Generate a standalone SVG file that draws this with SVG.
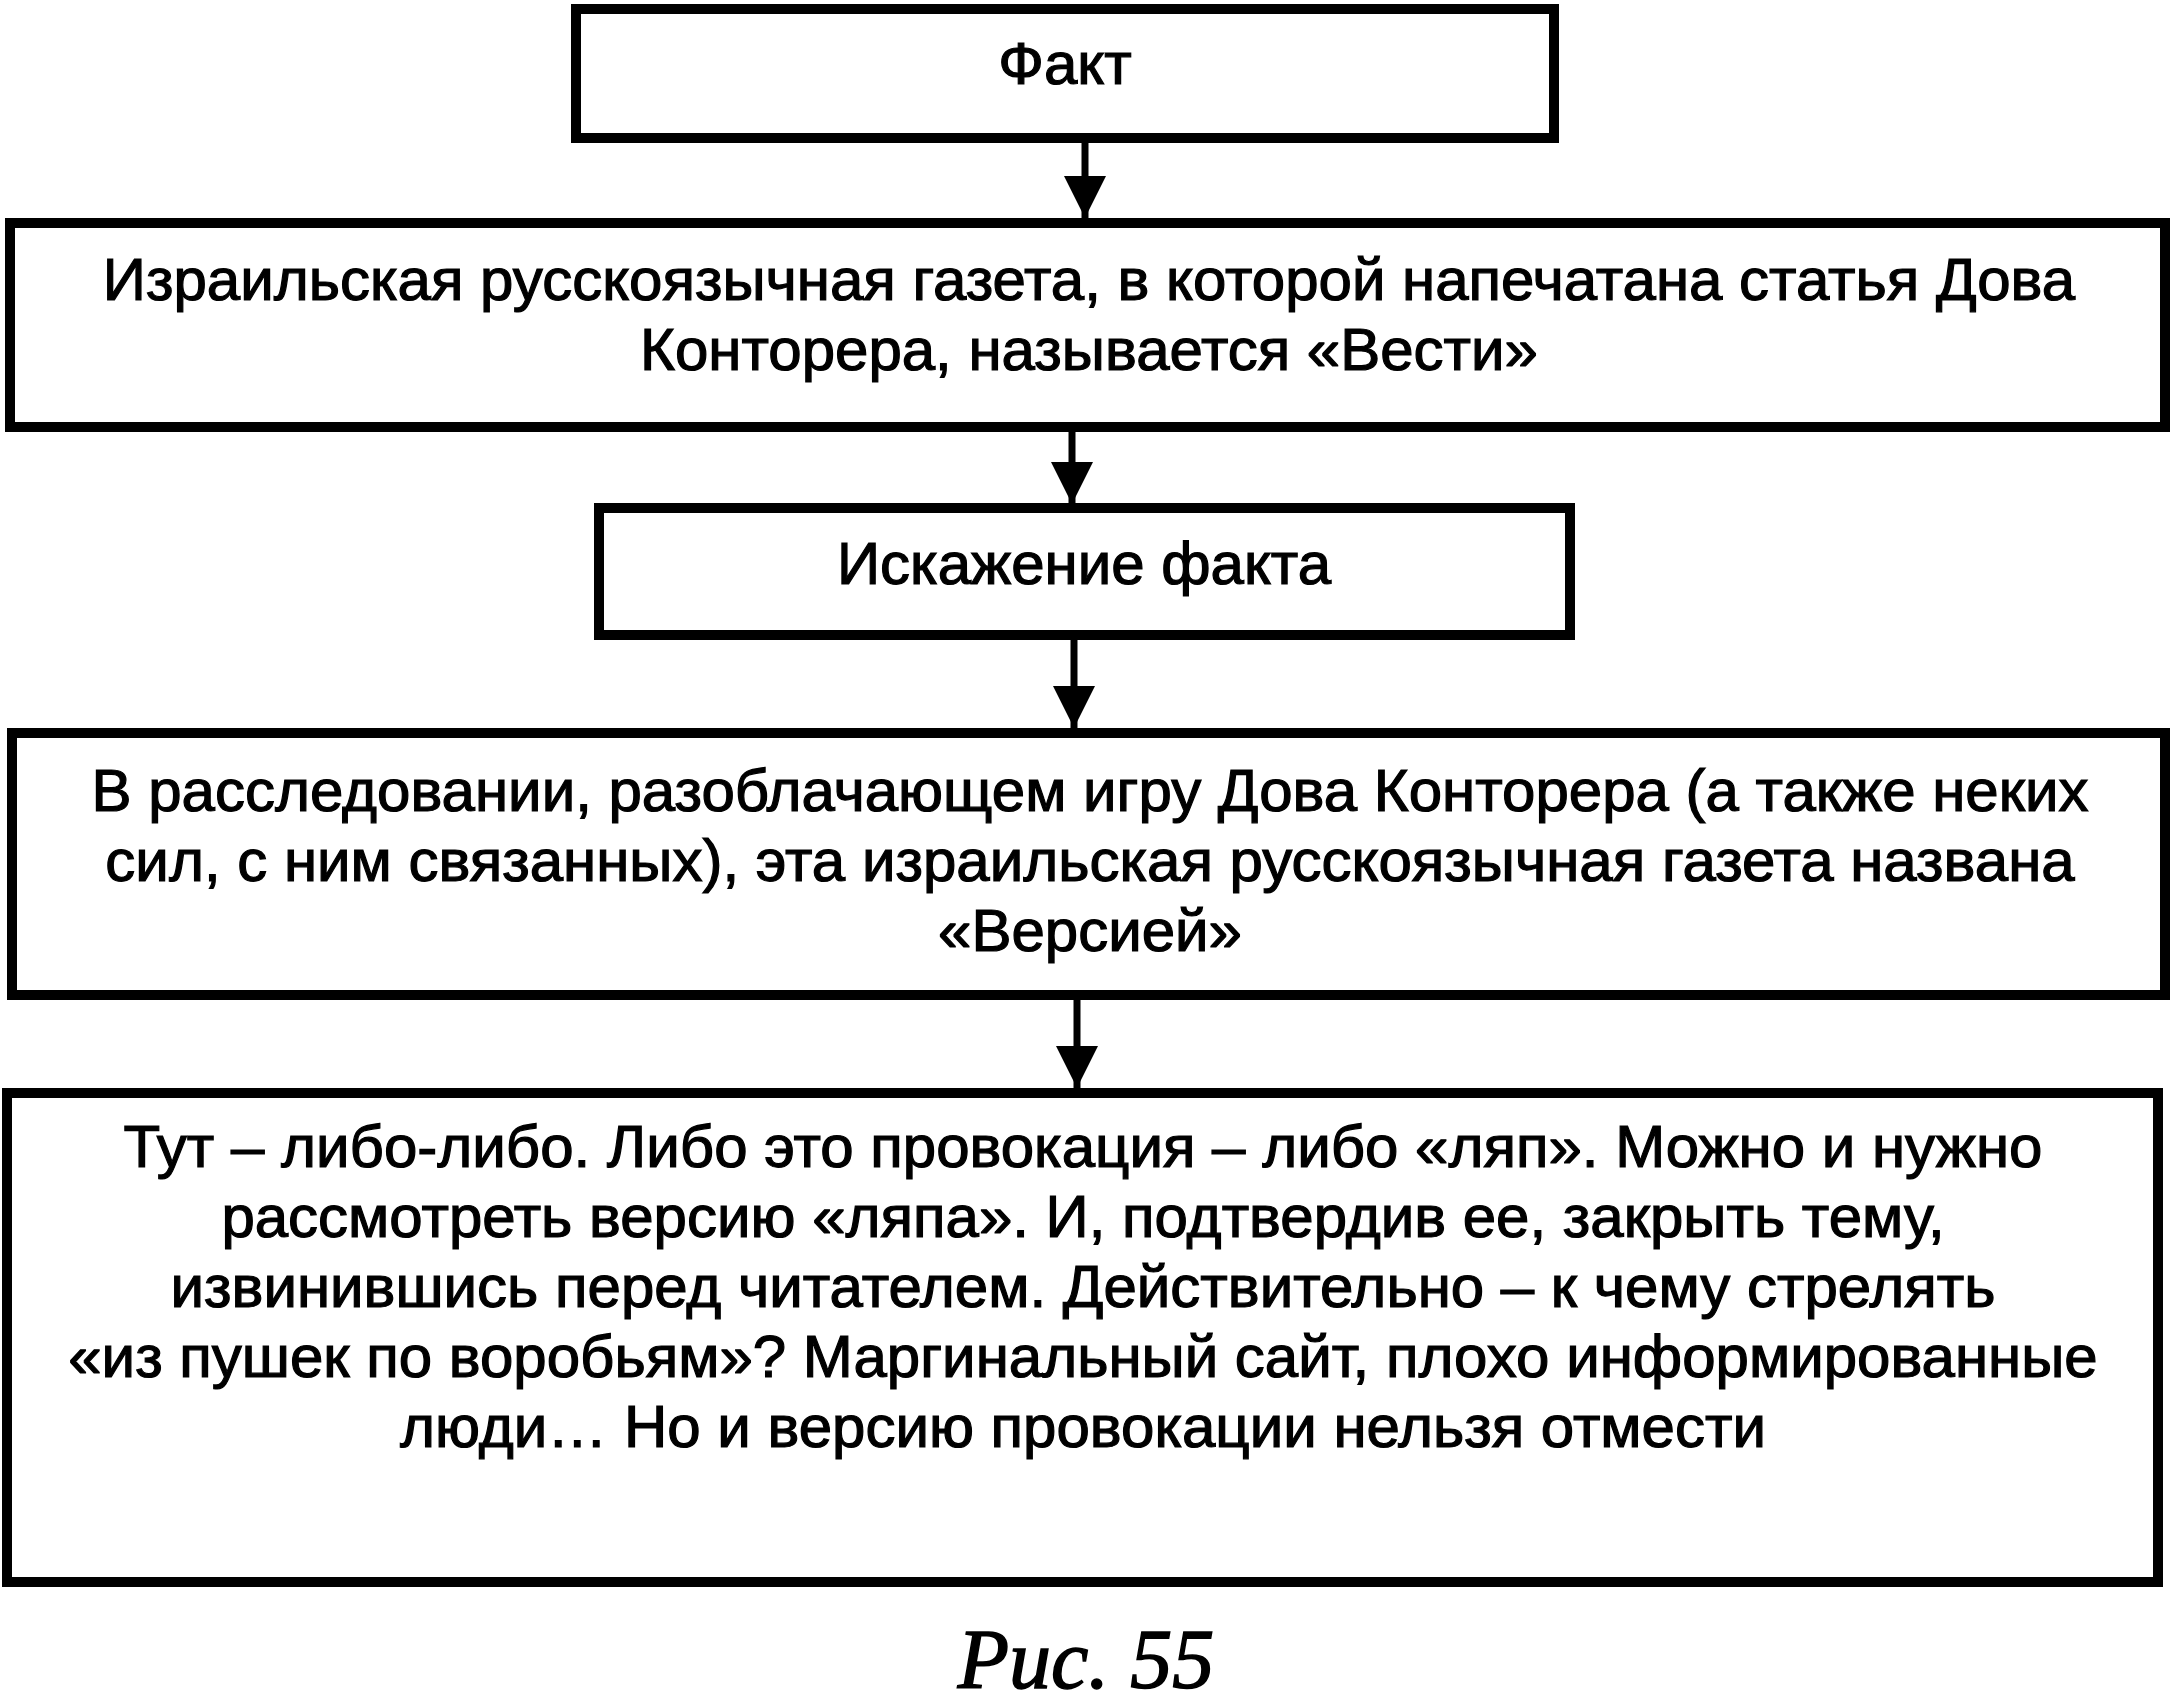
<svg xmlns="http://www.w3.org/2000/svg" width="2173" height="1705" viewBox="0 0 2173 1705">
<style>
.box{fill:#fff;stroke:#000;stroke-width:10}
.t{font-family:"Liberation Sans",Arial,sans-serif;font-size:60px;fill:#000;stroke:#000;stroke-width:1.2;text-anchor:middle}
.cap{font-family:"Liberation Serif","Times New Roman",serif;font-style:italic;font-size:84px;fill:#000;stroke:#000;stroke-width:1.5;text-anchor:middle}
.ln{stroke:#000;stroke-width:7;fill:none}
</style>
<defs>
<marker id="ah" markerUnits="userSpaceOnUse" markerWidth="42" markerHeight="44" refX="42" refY="21" orient="auto">
<path d="M0,0 L42,21 L0,42 Z" fill="#000"/>
</marker>
</defs>
<rect width="2173" height="1705" fill="#fff"/>
<g id="connectors">
<line class="ln" x1="1085" y1="143" x2="1085" y2="218" marker-end="url(#ah)"/>
<line class="ln" x1="1072" y1="432" x2="1072" y2="504" marker-end="url(#ah)"/>
<line class="ln" x1="1074" y1="640" x2="1074" y2="728" marker-end="url(#ah)"/>
<line class="ln" x1="1077" y1="1000" x2="1077" y2="1088" marker-end="url(#ah)"/>
</g>
<g id="node-fact">
<rect class="box" x="576" y="9" width="978" height="129"/>
<text class="t" x="1065" y="84">Факт</text>
</g>
<g id="node-vesti">
<rect class="box" x="10" y="223" width="2155" height="204"/>
<text class="t" x="1089" y="300">Израильская русскоязычная газета, в которой напечатана статья Дова</text>
<text class="t" x="1089" y="370">Конторера, называется «Вести»</text>
</g>
<g id="node-distortion">
<rect class="box" x="599" y="508" width="971" height="127"/>
<text class="t" x="1084" y="584">Искажение факта</text>
</g>
<g id="node-versia">
<rect class="box" x="12" y="733" width="2153" height="262"/>
<text class="t" x="1090" y="811">В расследовании, разоблачающем игру Дова Конторера (а также неких</text>
<text class="t" x="1090" y="881">сил, с ним связанных), эта израильская русскоязычная газета названа</text>
<text class="t" x="1090" y="951">«Версией»</text>
</g>
<g id="node-conclusion">
<rect class="box" x="7" y="1093" width="2151" height="489"/>
<text class="t" x="1083" y="1167">Тут – либо-либо. Либо это провокация – либо «ляп». Можно и нужно</text>
<text class="t" x="1083" y="1237">рассмотреть версию «ляпа». И, подтвердив ее, закрыть тему,</text>
<text class="t" x="1083" y="1307">извинившись перед читателем. Действительно – к чему стрелять</text>
<text class="t" x="1083" y="1377">«из пушек по воробьям»? Маргинальный сайт, плохо информированные</text>
<text class="t" x="1083" y="1447">люди… Но и версию провокации нельзя отмести</text>
</g>
<text class="cap" x="1086" y="1688">Рис. 55</text>
</svg>
